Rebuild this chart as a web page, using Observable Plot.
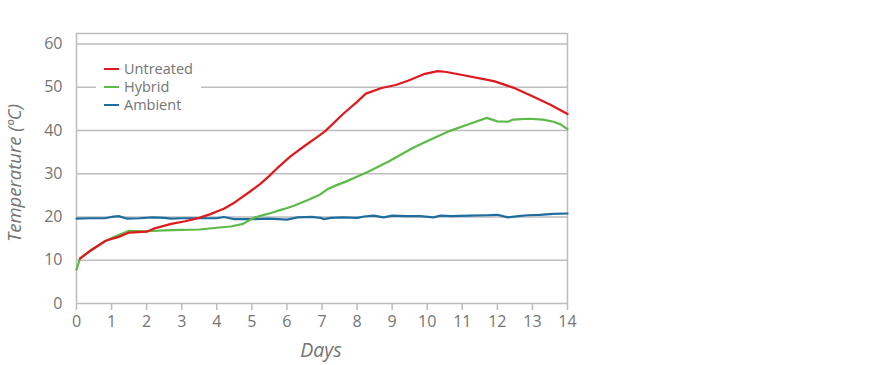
<!DOCTYPE html>
<html>
<head>
<meta charset="utf-8">
<script src="https://cdn.jsdelivr.net/npm/d3@7"></script>
<script src="https://cdn.jsdelivr.net/npm/@observablehq/plot@0.6"></script>
<style>
  html, body { margin: 0; padding: 0; background: #fff; }
  #wrap { position: relative; width: 894px; height: 365px; font-family: "Open Sans", sans-serif; }
  #legend { position: absolute; left: 96px; top: 60px; background: #fff; padding: 0 8px 0 8px; font-size: 14.5px; color: #747474; line-height: 18px; }
  #legend .row { display: flex; align-items: center; height: 18px; }
  #legend .sw { width: 15px; height: 2.5px; margin-right: 5px; }
  #legend span { line-height: 18px; }
</style>
</head>
<body>
<div id="wrap"><div id="legend"></div></div>
<script>
const seriesNames = ["Untreated", "Hybrid", "Ambient"];
const seriesColors = ["#e0191e", "#5dba47", "#1d6e9e"];

const untreatedDays = [0.1, 0.4, 0.83, 1.2, 1.5, 2.0, 2.2, 2.7, 3.1, 3.5, 3.8, 4.2, 4.5, 4.9, 5.25, 5.5, 5.7, 6.1, 6.5, 6.9, 7.1, 7.6, 8.0, 8.25, 8.7, 9.1, 9.45, 9.9, 10.3, 10.55, 11.0, 11.9, 12.45, 13.0, 13.5, 14];
const untreatedTemps = [10.4, 12.2, 14.5, 15.4, 16.4, 16.6, 17.3, 18.4, 19.0, 19.8, 20.6, 21.9, 23.3, 25.6, 27.7, 29.5, 31.1, 34.0, 36.4, 38.7, 39.9, 43.8, 46.6, 48.5, 49.8, 50.5, 51.5, 53.0, 53.7, 53.5, 52.8, 51.4, 49.9, 47.9, 46.0, 43.8];

const hybridDays = [0, 0.1, 0.4, 0.8, 1.05, 1.5, 2.0, 2.5, 3.0, 3.5, 4.0, 4.4, 4.75, 5.05, 5.45, 5.9, 6.2, 6.6, 6.95, 7.15, 7.4, 7.75, 8.3, 8.9, 9.6, 10.1, 10.65, 11.2, 11.7, 12.0, 12.3, 12.45, 12.9, 13.3, 13.6, 13.8, 14];
const hybridTemps = [7.8, 10.4, 12.3, 14.3, 15.3, 16.8, 16.7, 16.9, 17.0, 17.1, 17.5, 17.8, 18.4, 19.8, 20.7, 21.8, 22.6, 23.9, 25.2, 26.4, 27.3, 28.4, 30.4, 32.8, 36.0, 37.9, 39.9, 41.5, 42.9, 42.1, 42.0, 42.5, 42.7, 42.5, 42.0, 41.4, 40.3];

const ambientDays = [0, 0.4, 0.8, 1.0, 1.2, 1.45, 1.8, 2.17, 2.5, 2.7, 3.0, 3.5, 4.0, 4.2, 4.5, 5.0, 5.5, 6.0, 6.3, 6.7, 6.96, 7.05, 7.25, 7.6, 8.0, 8.2, 8.47, 8.76, 9.0, 9.4, 9.8, 10.18, 10.38, 10.7, 11.2, 11.7, 12.0, 12.3, 12.6, 12.86, 13.2, 13.6, 14];
const ambientTemps = [19.6, 19.7, 19.7, 20.0, 20.2, 19.6, 19.7, 19.9, 19.8, 19.6, 19.7, 19.7, 19.7, 20.0, 19.5, 19.5, 19.6, 19.4, 19.9, 20.0, 19.8, 19.5, 19.8, 19.9, 19.8, 20.1, 20.3, 19.9, 20.3, 20.2, 20.2, 19.9, 20.3, 20.2, 20.3, 20.4, 20.5, 19.9, 20.2, 20.4, 20.5, 20.7, 20.8];

const xTicks = [0,1,2,3,4,5,6,7,8,9,10,11,12,13,14];
const yTicks = [0,10,20,30,40,50,60];
const xLabel = "Days";
const yLabel = "Temperature (ºC)";

const toRows = (days, temps, s) => days.map((d, i) => ({day: d, temp: temps[i], series: s}));
const rows = [
  ...toRows(ambientDays, ambientTemps, "Ambient"),
  ...toRows(hybridDays, hybridTemps, "Hybrid"),
  ...toRows(untreatedDays, untreatedTemps, "Untreated")
];

const gridColor = "#bdbdbd";
const textColor = "#747474";

const chart = Plot.plot({
  width: 894,
  height: 365,
  marginLeft: 76,
  marginRight: 327,
  marginTop: 33,
  marginBottom: 62,
  style: {fontFamily: "Open Sans, sans-serif", background: "transparent", overflow: "visible"},
  x: {domain: [0, 14]},
  y: {domain: [0, 62.4]},
  color: {domain: seriesNames, range: seriesColors},
  marks: [
    Plot.ruleY(yTicks, {stroke: gridColor, strokeWidth: 1.5}),
    Plot.ruleY([62.4], {stroke: gridColor, strokeWidth: 1.5}),
    Plot.ruleX([0, 14], {stroke: gridColor, strokeWidth: 1.5}),
    Plot.axisX({ticks: xTicks, tickSize: 7, tickPadding: 5, stroke: gridColor, strokeWidth: 1.5, fontSize: 16, color: textColor, label: null, tickFormat: d => String(d)}),
    Plot.axisY({ticks: yTicks, tickSize: 0, tickPadding: 14, fontSize: 16, color: textColor, label: null}),
    Plot.line(rows, {x: "day", y: "temp", z: "series", stroke: "series", strokeWidth: 2.2, curve: "linear"})
  ]
});

const wrap = document.getElementById("wrap");
wrap.insertBefore(chart, wrap.firstChild);

const svg = d3.select(chart);
svg.append("text")
  .attr("transform", "translate(21,173) rotate(-90)")
  .attr("text-anchor", "middle")
  .attr("fill", textColor)
  .attr("font-style", "italic")
  .attr("font-size", 18.5)
  .attr("font-family", "Open Sans, sans-serif")
  .text(yLabel);
svg.append("text")
  .attr("x", 321)
  .attr("y", 357)
  .attr("text-anchor", "middle")
  .attr("fill", textColor)
  .attr("font-style", "italic")
  .attr("font-size", 19.5)
  .attr("font-family", "Open Sans, sans-serif")
  .text(xLabel);

const legend = d3.select("#legend");
seriesNames.forEach((n, i) => {
  const row = legend.append("div").attr("class", "row");
  row.append("div").attr("class", "sw").style("background", seriesColors[i]);
  row.append("span").text(n);
});
chart.style.position = "absolute";
chart.style.left = "0";
chart.style.top = "0";
</script>
</body>
</html>
